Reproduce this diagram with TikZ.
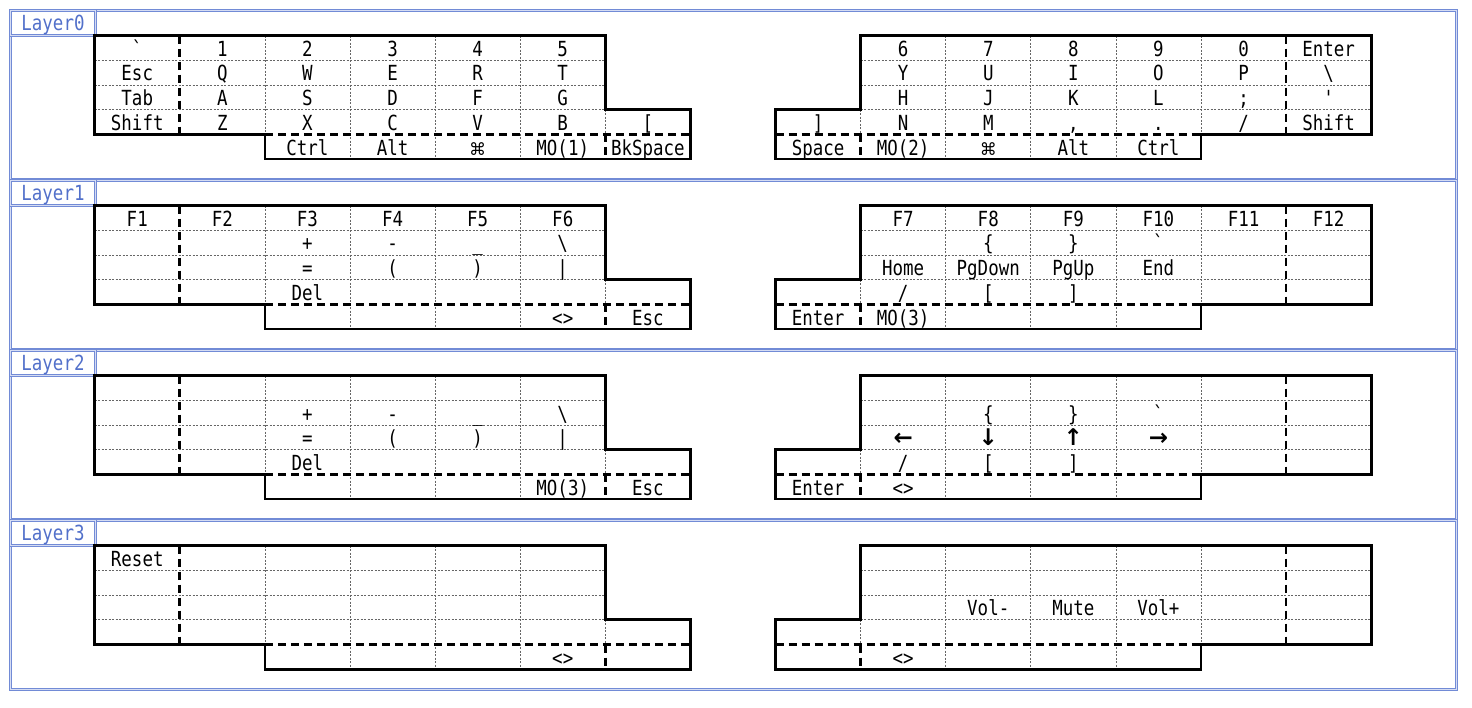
\documentclass[tikz,border=0pt]{standalone}
\usepackage{fontspec}
\setmonofont{DejaVu Sans Mono}[FakeStretch=0.84]
\newfontfamily\symf{DejaVu Sans}
\definecolor{frameblue}{HTML}{728BD6}
\definecolor{labelblue}{HTML}{5270CA}
\newcommand\cmdkey{{\symf\fontsize{17}{20}\selectfont ⌘}}
\newcommand\arL{{\symf\bfseries\fontsize{23}{24}\selectfont ←}}
\newcommand\arD{{\symf\bfseries\fontsize{23}{24}\selectfont ↓}}
\newcommand\arU{{\symf\bfseries\fontsize{23}{24}\selectfont ↑}}
\newcommand\arR{{\symf\bfseries\fontsize{23}{24}\selectfont →}}
\tikzset{
  layerframe/.style={draw=frameblue, line width=1.2pt, double=white!70!frameblue, double distance=0.7pt},
  kt/.style={anchor=base, inner sep=0pt, font=\fontsize{20.8}{24}\selectfont\ttfamily},
  lt/.style={kt, text=labelblue},
  thinsep/.style={draw=black!60, line width=0.8pt, dash pattern=on 2pt off 1.5pt},
  kdash/.style={line width=2.7pt, dash pattern=on 8pt off 5pt},
  outline/.style={line width=2.7pt, line join=miter}
}
\newcommand\lk[4]{\node[kt] (L#1c#2r#3) at ({137.25+85.1*#2},{35.5+170.07*#1+24.7*#3+20.7}) {#4};}
\newcommand\rk[4]{\node[kt] (R#1c#2r#3) at ({818.05+85.1*#2},{35.5+170.07*#1+24.7*#3+20.7}) {#4};}
\begin{document}
\begin{tikzpicture}[x=1pt,y=-1pt]
\useasboundingbox (0,0) rectangle (1472,707);
\foreach \l in {0,1,2,3}{
\begin{scope}[shift={(0,35.5+170.07*\l)}]
 \draw[layerframe] (10.5,-25) rectangle (1456.5,144);
 \draw[layerframe] (10.5,-25) rectangle (95.5,0);
 \node[lt] (lab\l) at (53,-5) {Layer\l};
 % left half
 \draw[thinsep] (94.7,24.7) -- (605.3,24.7) (94.7,49.4) -- (605.3,49.4) (94.7,74.1) -- (605.3,74.1);
 \draw[thinsep] (264.9,0) -- (264.9,98.8) (350,0) -- (350,123.5) (435.1,0) -- (435.1,123.5) (520.2,0) -- (520.2,123.5) (605.3,74.1) -- (605.3,98.8);
 \draw[kdash] (179.8,0) -- (179.8,98.8) (264.9,98.8) -- (690.4,98.8) (605.3,98.8) -- (605.3,123.5);
 \draw[outline] (94.7,0) -- (605.3,0) -- (605.3,74.1) -- (690.4,74.1) -- (690.4,123.5) -- (264.9,123.5) -- (264.9,98.8) -- (94.7,98.8) -- cycle;
 % right half
 \draw[thinsep] (860.6,24.7) -- (1371.2,24.7) (860.6,49.4) -- (1371.2,49.4) (860.6,74.1) -- (1371.2,74.1);
 \draw[thinsep] (945.7,0) -- (945.7,123.5) (1030.8,0) -- (1030.8,123.5) (1115.9,0) -- (1115.9,123.5) (1201,0) -- (1201,98.8) (860.6,74.1) -- (860.6,98.8);
 \draw[kdash] (1286.1,0) -- (1286.1,98.8) (775.5,98.8) -- (1201,98.8) (860.6,98.8) -- (860.6,123.5);
 \draw[outline] (860.6,0) -- (1371.2,0) -- (1371.2,98.8) -- (1201,98.8) -- (1201,123.5) -- (775.5,123.5) -- (775.5,74.1) -- (860.6,74.1) -- cycle;
\end{scope}}
% ---------------- Layer0
\lk{0}{0}{0}{`}\lk{0}{1}{0}{1}\lk{0}{2}{0}{2}\lk{0}{3}{0}{3}\lk{0}{4}{0}{4}\lk{0}{5}{0}{5}
\lk{0}{0}{1}{Esc}\lk{0}{1}{1}{Q}\lk{0}{2}{1}{W}\lk{0}{3}{1}{E}\lk{0}{4}{1}{R}\lk{0}{5}{1}{T}
\lk{0}{0}{2}{Tab}\lk{0}{1}{2}{A}\lk{0}{2}{2}{S}\lk{0}{3}{2}{D}\lk{0}{4}{2}{F}\lk{0}{5}{2}{G}
\lk{0}{0}{3}{Shift}\lk{0}{1}{3}{Z}\lk{0}{2}{3}{X}\lk{0}{3}{3}{C}\lk{0}{4}{3}{V}\lk{0}{5}{3}{B}\lk{0}{6}{3}{[}
\lk{0}{2}{4}{Ctrl}\lk{0}{3}{4}{Alt}\lk{0}{4}{4}{\cmdkey}\lk{0}{5}{4}{MO(1)}\lk{0}{6}{4}{BkSpace}
\rk{0}{1}{0}{6}\rk{0}{2}{0}{7}\rk{0}{3}{0}{8}\rk{0}{4}{0}{9}\rk{0}{5}{0}{0}\rk{0}{6}{0}{Enter}
\rk{0}{1}{1}{Y}\rk{0}{2}{1}{U}\rk{0}{3}{1}{I}\rk{0}{4}{1}{O}\rk{0}{5}{1}{P}\rk{0}{6}{1}{\textbackslash}
\rk{0}{1}{2}{H}\rk{0}{2}{2}{J}\rk{0}{3}{2}{K}\rk{0}{4}{2}{L}\rk{0}{5}{2}{;}\rk{0}{6}{2}{'}
\rk{0}{0}{3}{]}\rk{0}{1}{3}{N}\rk{0}{2}{3}{M}\rk{0}{3}{3}{,}\rk{0}{4}{3}{.}\rk{0}{5}{3}{/}\rk{0}{6}{3}{Shift}
\rk{0}{0}{4}{Space}\rk{0}{1}{4}{MO(2)}\rk{0}{2}{4}{\cmdkey}\rk{0}{3}{4}{Alt}\rk{0}{4}{4}{Ctrl}
% ---------------- Layer1
\lk{1}{0}{0}{F1}\lk{1}{1}{0}{F2}\lk{1}{2}{0}{F3}\lk{1}{3}{0}{F4}\lk{1}{4}{0}{F5}\lk{1}{5}{0}{F6}
\lk{1}{2}{1}{+}\lk{1}{3}{1}{-}\lk{1}{4}{1}{\_}\lk{1}{5}{1}{\textbackslash}
\lk{1}{2}{2}{=}\lk{1}{3}{2}{(}\lk{1}{4}{2}{)}\lk{1}{5}{2}{|}
\lk{1}{2}{3}{Del}
\lk{1}{5}{4}{<>}\lk{1}{6}{4}{Esc}
\rk{1}{1}{0}{F7}\rk{1}{2}{0}{F8}\rk{1}{3}{0}{F9}\rk{1}{4}{0}{F10}\rk{1}{5}{0}{F11}\rk{1}{6}{0}{F12}
\rk{1}{2}{1}{\{}\rk{1}{3}{1}{\}}\rk{1}{4}{1}{`}
\rk{1}{1}{2}{Home}\rk{1}{2}{2}{PgDown}\rk{1}{3}{2}{PgUp}\rk{1}{4}{2}{End}
\rk{1}{1}{3}{/}\rk{1}{2}{3}{[}\rk{1}{3}{3}{]}
\rk{1}{0}{4}{Enter}\rk{1}{1}{4}{MO(3)}
% ---------------- Layer2
\lk{2}{2}{1}{+}\lk{2}{3}{1}{-}\lk{2}{4}{1}{\_}\lk{2}{5}{1}{\textbackslash}
\lk{2}{2}{2}{=}\lk{2}{3}{2}{(}\lk{2}{4}{2}{)}\lk{2}{5}{2}{|}
\lk{2}{2}{3}{Del}
\lk{2}{5}{4}{MO(3)}\lk{2}{6}{4}{Esc}
\rk{2}{2}{1}{\{}\rk{2}{3}{1}{\}}\rk{2}{4}{1}{`}
\rk{2}{1}{2}{\arL}\rk{2}{2}{2}{\arD}\rk{2}{3}{2}{\arU}\rk{2}{4}{2}{\arR}
\rk{2}{1}{3}{/}\rk{2}{2}{3}{[}\rk{2}{3}{3}{]}
\rk{2}{0}{4}{Enter}\rk{2}{1}{4}{<>}
% ---------------- Layer3
\lk{3}{0}{0}{Reset}
\lk{3}{5}{4}{<>}
\rk{3}{2}{2}{Vol-}\rk{3}{3}{2}{Mute}\rk{3}{4}{2}{Vol+}
\rk{3}{1}{4}{<>}
\end{tikzpicture}
\end{document}
